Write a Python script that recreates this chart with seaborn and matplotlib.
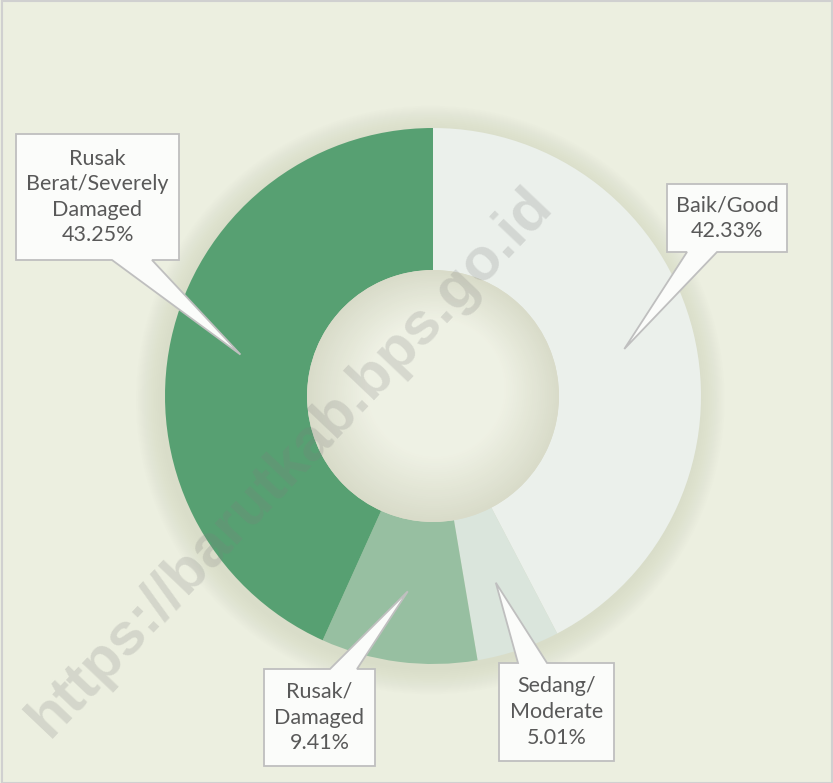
import numpy as np
import seaborn as sns
import matplotlib.pyplot as plt
from matplotlib.patches import Polygon, Circle, Rectangle

# road condition shares (%)
labels = ['Baik/Good\n42.33%', 'Sedang/\nModerate\n5.01%', 'Rusak/\nDamaged\n9.41%',
          'Rusak\nBerat/Severely\nDamaged\n43.25%']
shares = [42.33, 5.01, 9.41, 43.25]
colors = ['#EBF0EB', '#DAE5DC', '#97BFA1', '#57A072']

sns.set_theme(style='white')
plt.rcParams['font.family'] = ['Lato', 'DejaVu Sans']

bg = '#ECEFE0'
fig = plt.figure(figsize=(8.33, 7.83), dpi=100, facecolor=bg)
ax = fig.add_axes([0, 0, 1, 1])
ax.set_facecolor(bg)
ax.axis('off')

# pixel layout -> data units (1 unit = outer radius)
scale = 268.0
cx, cy = 433, 396


def to_data(x, y):
    return (x - cx) / scale, (cy - y) / scale


# soft shadow around the ring
for i in range(14):
    ax.add_patch(Circle((-0.01, -0.015), 1.0 + 0.007 * (14 - i), color='#C4C8B0',
                        alpha=0.03, lw=0, zorder=0))

ring = 0.53
ax.pie(shares, colors=colors, startangle=90, counterclock=False, radius=1,
       wedgeprops=dict(width=ring, edgecolor='none'))

# shaded hole
hole = 1 - ring
for t in np.linspace(0, 1, 30):
    c = np.array([0.85, 0.86, 0.79]) * (1 - t) + np.array([0.935, 0.945, 0.895]) * t
    ax.add_patch(Circle((0.01 * t, 0.03 * t), hole * (1 - 0.45 * t), color=c, lw=0, zorder=3))

ax.set_xlim(to_data(0, 0)[0], to_data(833, 0)[0])
ax.set_ylim(to_data(0, 783)[1], to_data(0, 0)[1])
ax.set_aspect('auto')

# callouts
ends = np.cumsum(shares) / 100 * 360
mids = np.radians(ends - np.array(shares) / 100 * 360 / 2)
r_tip = 1 - ring / 2

boxes = [
    ((667, 184, 787, 252), 'bottom', (687, 717)),
    ((499, 663, 614, 761), 'top', (518, 547)),
    ((264, 669, 375, 766), 'top', (330, 357)),
    ((16, 134, 179, 260), 'bottom', (112, 152)),
]

for lab, th, (box, side, base) in zip(labels, mids, boxes):
    x0, y0, x1, y1 = box
    tip = (r_tip * np.sin(th), r_tip * np.cos(th))
    if side == 'bottom':
        pts = [(x0, y0), (x1, y0), (x1, y1), (base[1], y1), None, (base[0], y1), (x0, y1)]
    else:
        pts = [(x0, y0), (base[0], y0), None, (base[1], y0), (x1, y0), (x1, y1), (x0, y1)]
    verts = [tip if p is None else to_data(*p) for p in pts]
    ax.add_patch(Polygon(verts, closed=True, facecolor='#FBFCFA', edgecolor='#BFBFBF',
                         lw=1.3, zorder=5))
    tx, ty = to_data((x0 + x1) / 2, (y0 + y1) / 2)
    ax.text(tx, ty, lab, ha='center', va='center', fontsize=15.5, color='#595959',
            linespacing=1.35, zorder=6)

# watermark
wx, wy = to_data(290, 462)
ax.text(wx, wy, 'https://barutkab.bps.go.id', rotation=46.5, rotation_mode='anchor',
        ha='center', va='center', fontsize=43, fontweight='bold', color='#7F7F7F',
        alpha=0.22, family='Liberation Sans', zorder=8)

# frame
fig.patches.append(Rectangle((0.003, 0.0), 0.996, 0.999, transform=fig.transFigure,
                             fill=False, edgecolor='#D0D0D0', lw=1.5))

fig.savefig('out.png', dpi=100, facecolor=bg)
